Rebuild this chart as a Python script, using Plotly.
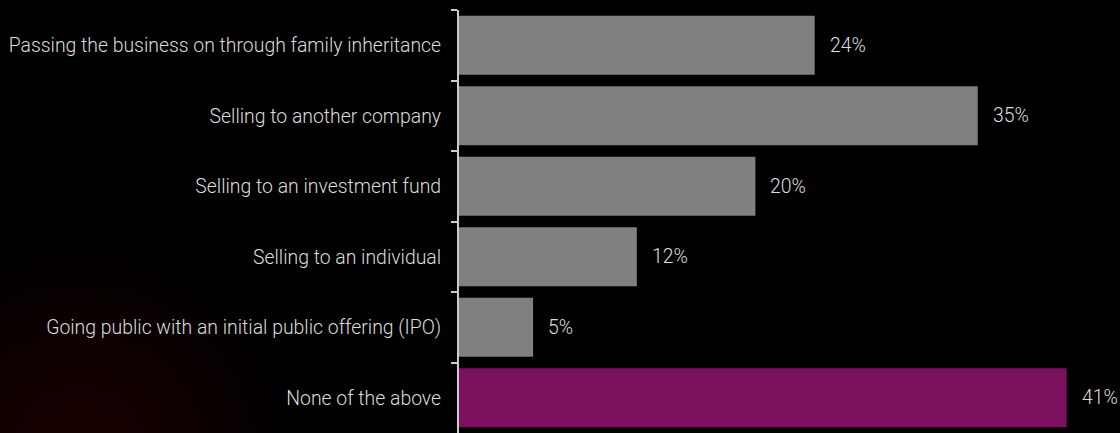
import plotly.graph_objects as go

categories = [
    "Passing the business on through family inheritance",
    "Selling to another company",
    "Selling to an investment fund",
    "Selling to an individual",
    "Going public with an initial public offering (IPO)",
    "None of the above",
]
values = [24, 35, 20, 12, 5, 41]
bar_colors = ["#808080"] * 5 + ["#7a105e"]

W, H = 1120, 433
ML, MR, MT, MB = 459, 0, 10, 0
PW, PH = W - ML - MR, H - MT - MB
FONT = "Roboto"
FONT_SIZE = 19.4
TEXT_COLOR = "#dcdcdc"

fig = go.Figure(
    go.Bar(
        x=values,
        y=categories,
        orientation="h",
        marker=dict(color=bar_colors, line=dict(width=0)),
        hoverinfo="skip",
    )
)

# value labels sit a little to the right of each bar end
annotations = [
    dict(x=v, y=c, xref="x", yref="y", text=f"{v}%", showarrow=False,
         xanchor="left", xshift=13,
         font=dict(family=FONT, size=FONT_SIZE, color=TEXT_COLOR, weight=300))
    for c, v in zip(categories, values)
]

# faint warm glow in the lower-left corner, built from soft stacked discs
def px_to_paper(px, py):
    return (px - ML) / PW, 1 - (py - MT) / PH

shapes = []
cx, cy = 80, 460
for i in range(24):
    r = 210 - i * 8
    x0, y0 = px_to_paper(cx - r, cy - r)
    x1, y1 = px_to_paper(cx + r, cy + r)
    shapes.append(dict(
        type="circle", xref="paper", yref="paper",
        x0=x0, x1=x1, y0=y1, y1=y0,
        fillcolor="rgba(60,10,4,0.03)", line=dict(width=0), layer="below",
    ))

fig.update_layout(
    width=W, height=H,
    margin=dict(l=ML, r=MR, t=MT, b=MB),
    paper_bgcolor="#000000",
    plot_bgcolor="rgba(0,0,0,0)",
    bargap=0.16,
    showlegend=False,
    shapes=shapes,
    annotations=annotations,
    font=dict(family=FONT, color=TEXT_COLOR, size=FONT_SIZE),
    xaxis=dict(range=[0, 44.6], visible=False, fixedrange=True),
    yaxis=dict(
        autorange="reversed",
        showline=True, linecolor="#cccccc", linewidth=2,
        ticks="outside", tickson="boundaries", ticklen=6, tickwidth=1.5,
        tickcolor="#cccccc",
        showgrid=False, zeroline=False,
        ticklabelstandoff=12,
        tickfont=dict(color=TEXT_COLOR, size=FONT_SIZE, family=FONT, weight=300),
    ),
)

fig.write_html("out.html")
